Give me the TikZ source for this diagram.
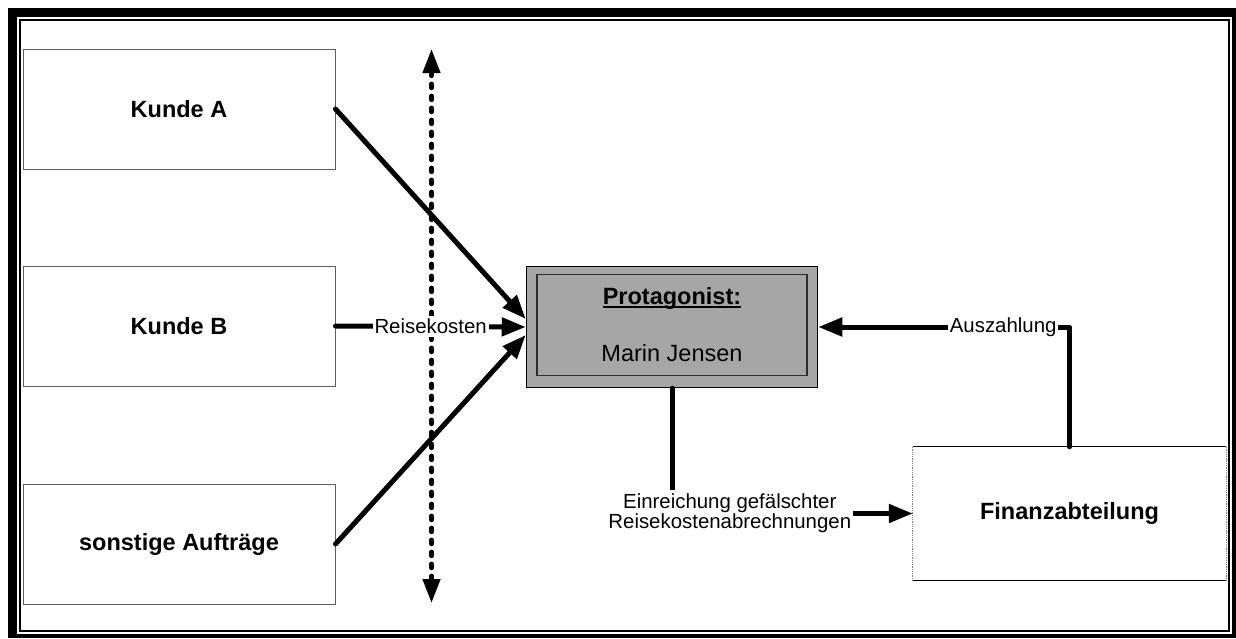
\documentclass[tikz,border=0pt]{standalone}
\usepackage{fontspec}
\setmainfont{Liberation Sans}
\usetikzlibrary{arrows.meta}
% underline at a fixed depth, crossing descenders
\newcommand{\undl}[1]{\setbox0\hbox{#1}\rlap{\rule[-3pt]{\wd0}{1.8pt}}\box0}
\definecolor{protgray}{RGB}{166,166,166}
\definecolor{boxline}{RGB}{95,95,95}
\definecolor{protline}{RGB}{45,45,45}
\begin{document}
\begin{tikzpicture}[x=1pt,y=-1pt,
  every node/.style={font=\fontsize{23.5}{28}\selectfont},
  plainbox/.style={draw=boxline, line width=1pt, fill=white,
    minimum width=312pt, minimum height=120pt, inner sep=0pt,
    font=\fontsize{23.5}{28}\selectfont\bfseries},
  finbox/.style={minimum width=313pt, minimum height=133pt, inner sep=0pt,
    font=\fontsize{23.5}{28}\selectfont\bfseries},
  conn/.style={line width=5pt, line cap=round, line join=round,
    -{Triangle[length=24pt,width=18pt]}},
  lbl/.style={fill=white, inner xsep=2pt, inner ysep=3.5pt, align=center,
    font=\fontsize{20.4}{18.5}\selectfont}
]
\useasboundingbox (0,0) rectangle (1236,638);

% double frame round the page
\fill[black] (8,8) rectangle (1236,638);
\fill[white] (17,17) rectangle (1232,633.5);
\draw[line width=2pt] (20,20) rectangle (1229,631);

% client boxes
\node[plainbox] (ka) at (179,109) {Kunde A};
\node[plainbox] (kb) at (179,326) {Kunde B};
\node[plainbox] (sa) at (179,544) {sonstige Aufträge};

% finance department
\node[finbox] (fin) at (1069.5,513.5) {Finanzabteilung};
\draw[line width=1pt] (fin.north west) -- (fin.north east);
\draw[line width=1pt] (fin.south west) -- (fin.south east);
\draw[gray, densely dotted, line width=0.8pt] (fin.north west) -- (fin.south west);
\draw[gray, densely dotted, line width=0.8pt] (fin.north east) -- (fin.south east);

% protagonist
\node[draw=black, line width=1.5pt, fill=protgray, minimum width=291pt,
  minimum height=121pt, inner sep=0pt] (prot) at (672,327) {};
\node[draw=protline, line width=1.2pt, minimum width=270pt, minimum height=101pt,
  inner sep=0pt, align=center] (protin) at (672,325)
  {\textbf{\undl{Protagonist:}}\\[29pt]Marin Jensen};

% dotted boundary with arrow heads at both ends
\coordinate (vt) at (431.5,49);
\coordinate (vb) at (431.5,603);
\draw[line width=4.5pt, dash pattern=on 4pt off 8pt, line cap=round,
  {Triangle[length=24pt,width=17pt]}-{Triangle[length=24pt,width=17pt]}] (vt) -- (vb);

% travel costs from the clients
\draw[conn] (ka.east) -- ([yshift=8pt]prot.west);
\draw[conn] (sa.east) -- ([yshift=-8pt]prot.west);
\draw[conn] (kb.east) -- node[lbl] {Reisekosten} (prot.west);

% claims and payout
\draw[conn] (prot.south) |- node[lbl, pos=0.62]
  {Einreichung gefälschter\\Reisekostenabrechnungen} (fin.west);
\draw[conn] (fin.north) |- node[lbl, pos=0.632] {Auszahlung} (prot.east);
\end{tikzpicture}
\end{document}
